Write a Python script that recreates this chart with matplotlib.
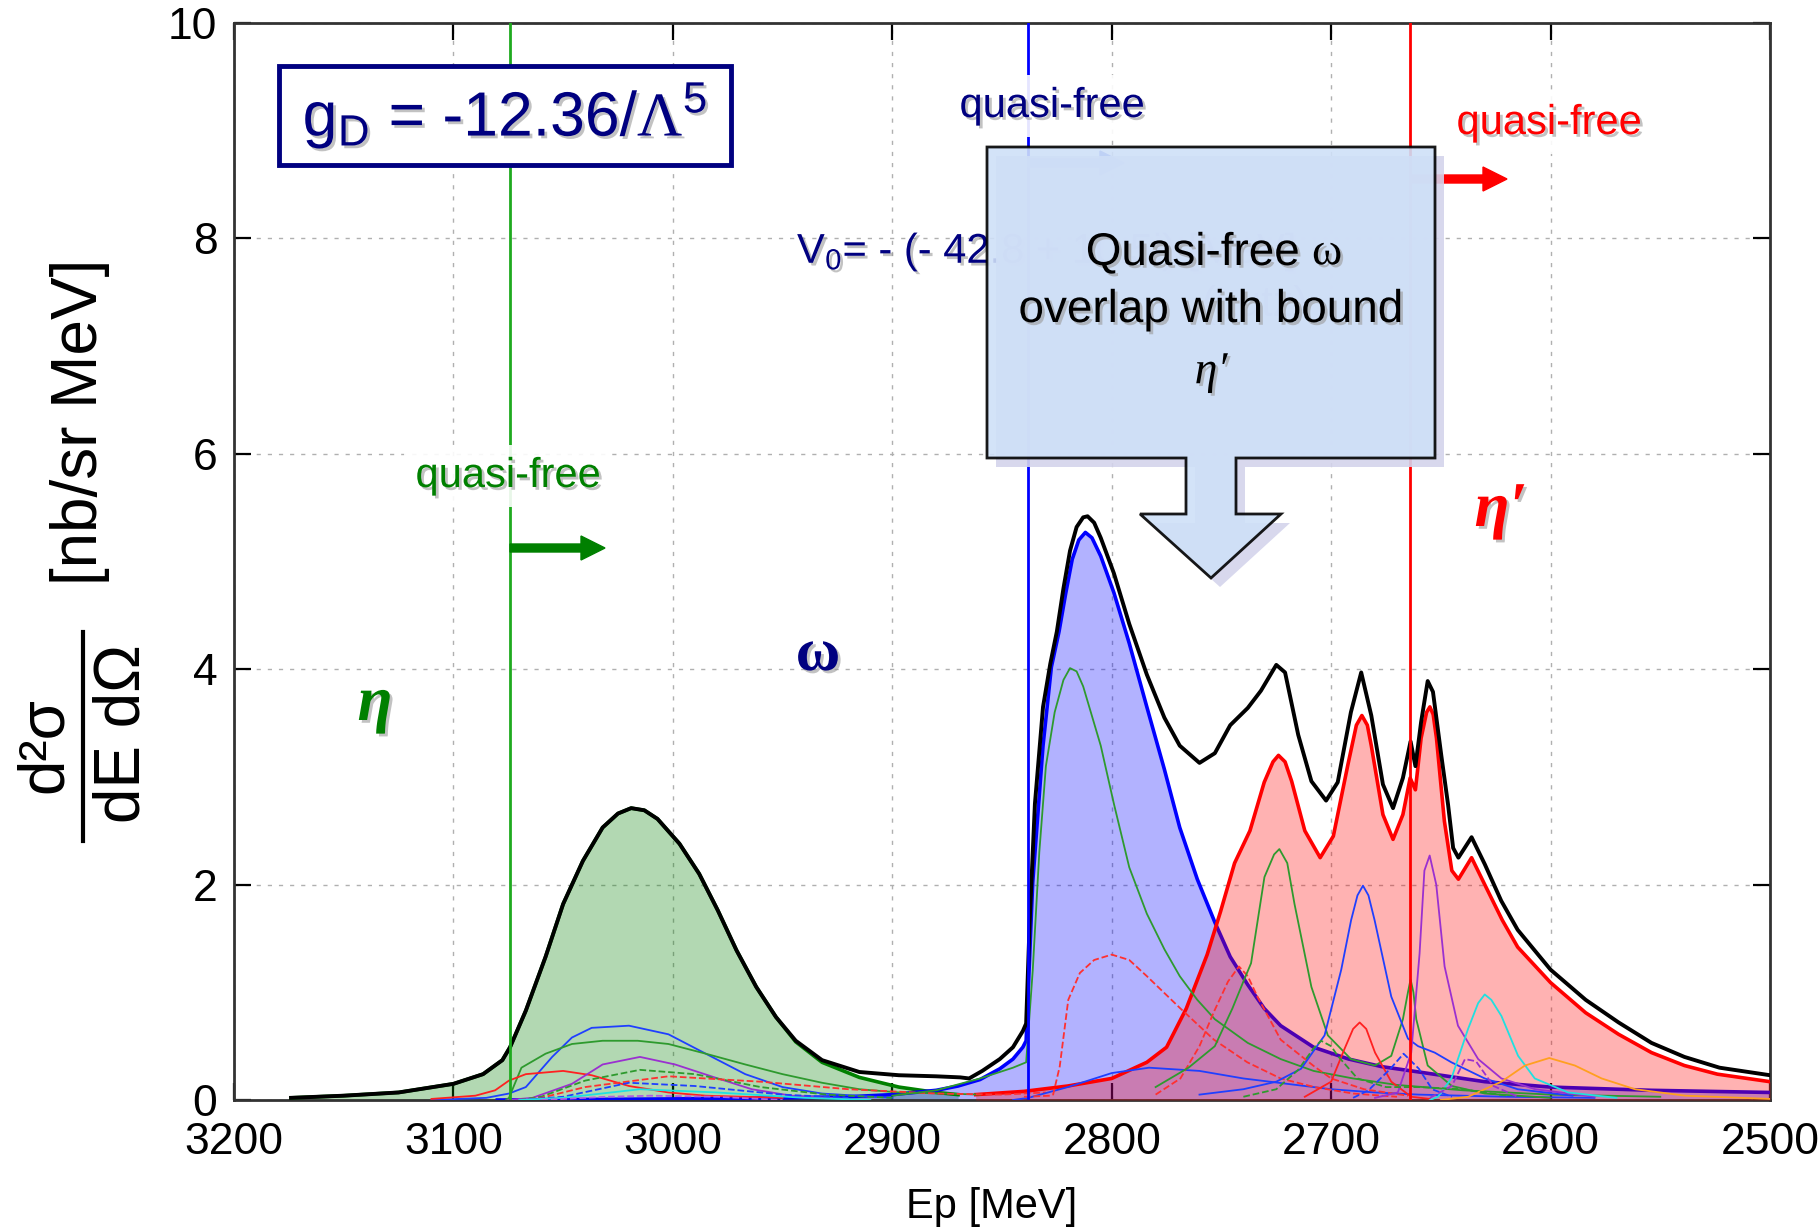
import matplotlib
matplotlib.use("Agg")
import matplotlib.pyplot as plt
import matplotlib.patheffects as pe
from matplotlib.patches import Polygon, Rectangle, FancyArrow

plt.rcParams['font.family'] = ['Liberation Sans', 'DejaVu Sans']
plt.rcParams['mathtext.fontset'] = 'custom'
plt.rcParams['mathtext.rm'] = 'Liberation Sans'
plt.rcParams['mathtext.it'] = 'Liberation Sans:italic'
plt.rcParams['mathtext.bf'] = 'Liberation Serif'

# ---- data (Ep in MeV, d2sigma/dEdOmega in nb/sr/MeV) ----
thresholds = [3074, 2838, 2664]          # eta, omega, eta' quasi-free thresholds

tot_x = [3174, 3150, 3125, 3100, 3086.5, 3077.7, 3074.2, 3067, 3058, 3050, 3041, 3032,
         3025, 3019, 3013, 3007, 2997, 2988, 2979.5, 2971, 2962, 2953, 2944, 2932, 2915,
         2897, 2880, 2869, 2865, 2859, 2851, 2845, 2840.5, 2839, 2837.4, 2835, 2831.3,
         2828, 2825, 2822, 2819, 2816, 2813, 2811, 2808, 2805, 2799, 2792, 2784, 2776,
         2769, 2760, 2753, 2746, 2738, 2732, 2725, 2721, 2715, 2709, 2702.3, 2697, 2691,
         2686.3, 2681.7, 2676.4, 2671.8, 2667.3, 2663.8, 2661.6, 2659, 2656, 2653.6,
         2649.8, 2646.7, 2644.4, 2642, 2636, 2630, 2622.5, 2615, 2600, 2584, 2569, 2554,
         2539, 2523, 2500]
tot_y = [0.02, 0.04, 0.07, 0.15, 0.24, 0.37, 0.49, 0.83, 1.33, 1.82, 2.22, 2.53,
         2.66, 2.71, 2.69, 2.61, 2.38, 2.10, 1.76, 1.39, 1.05, 0.77, 0.55, 0.37, 0.26,
         0.23, 0.22, 0.21, 0.20, 0.27, 0.38, 0.49, 0.64, 0.71, 1.65, 2.75, 3.65,
         4.05, 4.35, 4.75, 5.10, 5.32, 5.41, 5.42, 5.36, 5.22, 4.89, 4.42, 3.95, 3.55,
         3.29, 3.13, 3.22, 3.48, 3.64, 3.80, 4.04, 3.97, 3.39, 2.96, 2.78, 2.95, 3.60,
         3.97, 3.57, 2.93, 2.71, 2.99, 3.33, 3.10, 3.51, 3.89, 3.79,
         3.20, 2.74, 2.34, 2.25, 2.44, 2.19, 1.85, 1.58, 1.21, 0.93, 0.72, 0.53,
         0.40, 0.30, 0.23]

eta_x = [3174, 3150, 3125, 3100, 3086.5, 3077.7, 3074.2, 3067, 3058, 3050, 3041, 3032,
         3025, 3019, 3013, 3007, 2997, 2988, 2979.5, 2971, 2962, 2953, 2944, 2932, 2915,
         2897, 2880, 2870]
eta_y = [0.02, 0.04, 0.07, 0.15, 0.24, 0.37, 0.49, 0.83, 1.33, 1.82, 2.22, 2.53,
         2.66, 2.71, 2.69, 2.61, 2.38, 2.10, 1.76, 1.39, 1.05, 0.77, 0.54, 0.35, 0.21,
         0.12, 0.07, 0.05]

omega_x = [3080, 3000, 2950, 2920, 2900, 2880, 2870, 2860, 2851, 2845, 2840.5, 2839,
           2836, 2831.3, 2827.5, 2824, 2821, 2818, 2815, 2812, 2809, 2805, 2799, 2792,
           2784, 2776, 2769, 2761, 2753, 2746, 2738, 2730.5, 2723, 2708, 2692, 2677, 2660,
           2630, 2600, 2554, 2500]
omega_y = [0.0, 0.01, 0.02, 0.03, 0.05, 0.09, 0.13, 0.19, 0.29, 0.38, 0.49, 0.55,
           2.02, 3.29, 4.02, 4.35, 4.70, 5.02, 5.20, 5.27, 5.22, 5.05, 4.71, 4.24,
           3.65, 3.07, 2.53, 2.05, 1.65, 1.33, 1.07, 0.85, 0.69, 0.49, 0.38, 0.31, 0.26,
           0.17, 0.12, 0.09, 0.07]

etap_x = [2862, 2840, 2820, 2800, 2784, 2775, 2766, 2756.5, 2750.4, 2744, 2737, 2730.5,
          2726.5, 2724, 2721, 2718, 2712, 2705, 2699, 2692.4, 2688.5, 2686, 2683.5,
          2681.7, 2676.4, 2671.8, 2667.3, 2664, 2661.6, 2659, 2656.5, 2655, 2653.5, 2652,
          2648.4, 2645, 2642, 2636, 2630, 2622, 2615, 2600, 2584, 2569, 2554, 2539, 2524,
          2500]
etap_y = [0.05, 0.08, 0.13, 0.20, 0.35, 0.49, 0.85, 1.35, 1.75, 2.20, 2.50, 2.95,
          3.14, 3.20, 3.14, 2.96, 2.50, 2.25, 2.45, 3.11, 3.48, 3.57, 3.48,
          3.29, 2.65, 2.42, 2.65, 2.99, 2.88, 3.36, 3.60, 3.65, 3.58, 3.36,
          2.59, 2.13, 2.05, 2.25, 2.00, 1.67, 1.42, 1.09, 0.81, 0.61, 0.44, 0.32, 0.24,
          0.17]

# thin component curves
comp_be_x = [3110, 3085, 3074.7, 3067, 3055, 3046, 3037, 3020, 3002, 2985, 2967, 2950, 2932, 2900]
comp_be_y = [0.0, 0.02, 0.06, 0.12, 0.40, 0.58, 0.67, 0.69, 0.61, 0.43, 0.24, 0.12, 0.06, 0.02]
comp_ge_x = [3076, 3074.7, 3069, 3058, 3046, 3032, 3016, 3002, 2985, 2967, 2950, 2932, 2915, 2897, 2876, 2860]
comp_ge_y = [0.0, 0.02, 0.30, 0.43, 0.52, 0.55, 0.55, 0.52, 0.43, 0.33, 0.24, 0.16, 0.10, 0.07, 0.06, 0.05]
comp_re_x = [3110, 3090, 3081, 3074.7, 3067, 3050, 3037, 3020, 3002, 2985, 2950]
comp_re_y = [0.01, 0.04, 0.09, 0.18, 0.24, 0.27, 0.23, 0.13, 0.07, 0.04, 0.02]
comp_pe_x = [3075, 3064, 3046, 3032, 3015, 2999, 2981, 2964, 2946, 2920]
comp_pe_y = [0.0, 0.02, 0.15, 0.33, 0.40, 0.33, 0.21, 0.10, 0.04, 0.01]
comp_gde_x = [3070, 3060, 3040, 3015, 2990, 2960, 2930, 2900]
comp_gde_y = [0.0, 0.03, 0.18, 0.28, 0.24, 0.12, 0.05, 0.02]
comp_rde_x = [3070, 3060, 3040, 3002, 2960, 2920, 2880, 2850, 2830]
comp_rde_y = [0.0, 0.02, 0.12, 0.22, 0.17, 0.10, 0.06, 0.05, 0.07]
comp_bde_x = [3070, 3050, 3020, 2990, 2950, 2920]
comp_bde_y = [0.0, 0.03, 0.16, 0.13, 0.05, 0.02]
comp_ce_x = [3070, 3050, 3015, 2980, 2940, 2910]
comp_ce_y = [0.0, 0.02, 0.10, 0.07, 0.02, 0.0]
comp_pde_x = [3060, 3030, 3010, 2980, 2950]
comp_pde_y = [0.0, 0.03, 0.04, 0.03, 0.0]

comp_gw_x = [2900, 2880, 2860, 2845, 2839, 2836, 2833, 2830, 2826, 2822, 2819, 2816, 2813,
             2805, 2799, 2792, 2784, 2776, 2769, 2761, 2753, 2738, 2723, 2708, 2690, 2670,
             2640, 2600, 2550]
comp_gw_y = [0.04, 0.09, 0.20, 0.30, 0.35, 1.20, 2.30, 3.10, 3.60, 3.90, 4.01, 3.98, 3.84,
             3.29, 2.75, 2.16, 1.73, 1.40, 1.15, 0.93, 0.75, 0.53, 0.38, 0.27, 0.20, 0.14,
             0.09, 0.05, 0.03]
comp_bw_x = [2845, 2838, 2820, 2800, 2783, 2760, 2740, 2720, 2700, 2680, 2660, 2620, 2580]
comp_bw_y = [0.0, 0.02, 0.12, 0.25, 0.30, 0.27, 0.20, 0.15, 0.10, 0.07, 0.05, 0.03, 0.02]
comp_rd1_x = [2840, 2828, 2826.7, 2823.7, 2819.8, 2814.5, 2808, 2800, 2792, 2784, 2768.7,
              2753.4, 2738.2, 2723, 2707.6, 2690, 2670]
comp_rd1_y = [0.03, 0.04, 0.05, 0.31, 0.93, 1.18, 1.30, 1.35, 1.30, 1.15, 0.85,
              0.56, 0.35, 0.20, 0.12, 0.06, 0.03]
comp_rd2_x = [2780, 2768.7, 2760, 2753.4, 2747, 2742, 2738, 2733.6, 2723, 2707.6, 2700, 2685, 2665]
comp_rd2_y = [0.05, 0.20, 0.50, 0.82, 1.10, 1.24, 1.15, 0.96, 0.56, 0.31, 0.20, 0.10, 0.04]
comp_g2_x = [2780, 2765, 2753, 2745, 2740, 2736.5, 2730.4, 2726, 2723.6, 2720, 2716.7, 2709,
             2701.5, 2691, 2680, 2672.6, 2667.3, 2665, 2663.8, 2662.5, 2661.2, 2656, 2645,
             2630, 2600]
comp_g2_y = [0.12, 0.30, 0.50, 0.85, 1.10, 1.27, 2.07, 2.28, 2.33, 2.20, 1.82, 1.05,
             0.60, 0.38, 0.32, 0.41, 0.75, 1.00, 1.12, 1.00, 0.75, 0.32, 0.13,
             0.06, 0.02]
comp_b2_x = [2760, 2740, 2725, 2713.7, 2703, 2695.4, 2690.9, 2688, 2685.5, 2683, 2680.2,
             2672.6, 2665, 2660.4, 2652.8, 2645.2, 2630, 2615, 2590]
comp_b2_y = [0.05, 0.10, 0.17, 0.29, 0.60, 1.21, 1.67, 1.90, 1.99, 1.90, 1.67,
             0.96, 0.57, 0.50, 0.44, 0.35, 0.20, 0.10, 0.04]
comp_r2_x = [2712, 2700, 2694, 2690, 2687, 2684, 2680, 2672.6, 2663.5, 2655]
comp_r2_y = [0.03, 0.17, 0.47, 0.66, 0.72, 0.66, 0.44, 0.17, 0.03, 0.01]
comp_p2_x = [2680, 2669.6, 2663.5, 2659.7, 2657.5, 2655.1, 2652.1, 2648.3, 2642.2, 2633,
             2622.4, 2607, 2580]
comp_p2_y = [0.02, 0.07, 0.44, 1.36, 2.13, 2.27, 2.00, 1.24, 0.69, 0.38, 0.20, 0.10, 0.03]
comp_c2_x = [2655, 2651.3, 2645.2, 2637.6, 2633, 2630, 2627, 2622.4, 2614.8, 2607.2, 2592, 2570]
comp_c2_y = [0.0, 0.03, 0.20, 0.66, 0.90, 0.98, 0.93, 0.78, 0.41, 0.20, 0.07, 0.02]
comp_o2_x = [2650, 2637.6, 2622.4, 2611.7, 2600.6, 2588.9, 2576.7, 2561.5, 2538.6, 2500]
comp_o2_y = [0.0, 0.03, 0.17, 0.32, 0.39, 0.32, 0.20, 0.10, 0.04, 0.01]
comp_gd2_x = [2740, 2725, 2715, 2708, 2704.6, 2700, 2697, 2688, 2675, 2660, 2640, 2620]
comp_gd2_y = [0.03, 0.10, 0.28, 0.48, 0.55, 0.50, 0.41, 0.20, 0.12, 0.12, 0.10, 0.04]
comp_bd2_x = [2690, 2683, 2673, 2667, 2660, 2654, 2645]
comp_bd2_y = [0.02, 0.09, 0.29, 0.43, 0.29, 0.10, 0.03]
comp_pd2_x = [2655, 2645, 2639, 2634, 2626, 2615]
comp_pd2_y = [0.02, 0.13, 0.38, 0.36, 0.13, 0.03]

xticks = [3200, 3100, 3000, 2900, 2800, 2700, 2600, 2500]
yticks = [0, 2, 4, 6, 8, 10]

W, H = 1820, 1229
NAVY = '#000080'
GREEN = '#008000'


def fx(x):
    return x / W


def fy(y):
    return 1 - y / H


shadow = [pe.withSimplePatchShadow(offset=(2, -2), shadow_rgbFace='#9a9a9a', alpha=0.6)]

fig = plt.figure(figsize=(18.2, 12.29), dpi=100)
ax = fig.add_axes([fx(234), fy(1100), (1770 - 234) / W, (1100 - 23) / H])
ax.set_xlim(3200, 2500)
ax.set_ylim(0, 10)
ax.set_xticks(xticks)
ax.set_yticks(yticks)
ax.tick_params(direction='in', length=12, width=1.6, labelsize=32, top=True, right=True,
               labeltop=False, labelright=False)
ax.tick_params(axis='x', pad=16)
ax.tick_params(axis='y', pad=12)
ax.grid(True, color='#b0b0b0', linestyle=(0, (3, 5)), linewidth=1.0)
ax.set_axisbelow(True)
for s in ax.spines.values():
    s.set_linewidth(2.0)
    s.set_color('#333333')

# filled contributions
ax.fill_between(eta_x, eta_y, 0, color=GREEN, alpha=0.3, lw=0, zorder=2)
ax.plot(eta_x, eta_y, color=GREEN, lw=2.6, zorder=3)
ax.fill_between(omega_x, omega_y, 0, color='#0000ff', alpha=0.3, lw=0, zorder=2)
ax.plot(omega_x, omega_y, color='#0000ff', lw=2.6, zorder=3)
ax.fill_between(etap_x, etap_y, 0, color='#ff0000', alpha=0.3, lw=0, zorder=4)
ax.plot(etap_x, etap_y, color='#ff0000', lw=2.6, zorder=5)

comps = [
    (comp_be_x, comp_be_y, '#1f3fff', '-'),
    (comp_ge_x, comp_ge_y, '#2e9a2e', '-'),
    (comp_re_x, comp_re_y, '#ff2020', '-'),
    (comp_pe_x, comp_pe_y, '#9a30d0', '-'),
    (comp_gde_x, comp_gde_y, '#2e9a2e', '--'),
    (comp_rde_x, comp_rde_y, '#ff3030', '--'),
    (comp_bde_x, comp_bde_y, '#1f3fff', '--'),
    (comp_ce_x, comp_ce_y, '#20e0e0', '-'),
    (comp_pde_x, comp_pde_y, '#b060e0', '--'),
    (comp_gw_x, comp_gw_y, '#2e9a2e', '-'),
    (comp_bw_x, comp_bw_y, '#1f3fff', '-'),
    (comp_rd1_x, comp_rd1_y, '#ff3030', '--'),
    (comp_rd2_x, comp_rd2_y, '#ff3030', '--'),
    (comp_g2_x, comp_g2_y, '#2e9a2e', '-'),
    (comp_b2_x, comp_b2_y, '#1f3fff', '-'),
    (comp_r2_x, comp_r2_y, '#ff2020', '-'),
    (comp_p2_x, comp_p2_y, '#9a30d0', '-'),
    (comp_c2_x, comp_c2_y, '#20e0e0', '-'),
    (comp_o2_x, comp_o2_y, '#ffa020', '-'),
    (comp_gd2_x, comp_gd2_y, '#2e9a2e', '--'),
    (comp_bd2_x, comp_bd2_y, '#1f3fff', '--'),
    (comp_pd2_x, comp_pd2_y, '#9a30d0', '--'),
]
for cx, cy, col, ls in comps:
    ax.plot(cx, cy, color=col, lw=1.3, ls=ls, zorder=6)

ax.plot(tot_x, tot_y, color='black', lw=2.8, zorder=7)

for xv, col in zip(thresholds, ['#1faa1f', '#0000ff', '#ff0000']):
    ax.axvline(xv, color=col, lw=2.0, zorder=8)

# quasi-free labels and arrows
fig.text(fx(508), fy(476), 'quasi-free', color=GREEN, fontsize=30, ha='center', va='center',
         path_effects=shadow, bbox=dict(facecolor='white', edgecolor='none', alpha=0.9, pad=8))
fig.text(fx(1052), fy(106), 'quasi-free', color=NAVY, fontsize=30, ha='center', va='center',
         path_effects=shadow, bbox=dict(facecolor='white', edgecolor='none', alpha=0.9, pad=8))
fig.text(fx(1549), fy(123), 'quasi-free', color='red', fontsize=30, ha='center', va='center',
         path_effects=shadow, bbox=dict(facecolor='white', edgecolor='none', alpha=0.9, pad=8))

for x0, x1, yy, col in [(510, 605, 548, GREEN), (1028, 1124, 163, '#3050e0'), (1410, 1507, 179, 'red')]:
    fig.add_artist(FancyArrow(fx(x0), fy(yy), (x1 - x0) / W, 0, width=8 / H,
                              head_width=24 / H, head_length=24 / W, length_includes_head=True,
                              color=col, transform=fig.transFigure, zorder=9))

# potential text (mostly hidden by the callout)
fig.text(fx(797), fy(252), r'V$_0$= - (- 42.8 + 10.5i) [MeV]', color=NAVY, fontsize=30,
         ha='left', va='center', path_effects=shadow, zorder=9)
fig.text(fx(1255), fy(305), '(Lutz)', color=NAVY, fontsize=30, ha='center', va='center', zorder=9)

# g_D box
fig.add_artist(Rectangle((fx(279), fy(165)), (731 - 279) / W, (165 - 66) / H, transform=fig.transFigure,
                         facecolor='white', edgecolor=NAVY, lw=3.5, zorder=10))
fig.text(fx(505), fy(116), r'g$_\mathrm{D}$ = -12.36/$\mathbf{\Lambda}^5$', color=NAVY, fontsize=45,
         ha='center', va='center', path_effects=shadow, zorder=11)

# callout box with a down arrow
call = [(987, 147), (1435, 147), (1435, 458), (1236, 458), (1236, 514), (1281, 514),
        (1211, 578), (1140, 514), (1186, 514), (1186, 458), (987, 458)]
fig.add_artist(Polygon([(fx(x + 9), fy(y + 9)) for x, y in call], closed=True, transform=fig.transFigure,
                       facecolor='#d4d4ec', edgecolor='none', alpha=0.9, zorder=11))
fig.add_artist(Polygon([(fx(x), fy(y)) for x, y in call], closed=True, transform=fig.transFigure,
                       facecolor='#cfe0f8', edgecolor='black', lw=2.0, alpha=0.9, zorder=12))
fig.text(fx(1300), fy(253), 'Quasi-free', fontsize=33, ha='right', va='center', zorder=13,
         path_effects=shadow)
fig.text(fx(1312), fy(253), 'ω', fontsize=33, family='Liberation Serif', ha='left', va='center',
         zorder=13, path_effects=shadow)
fig.text(fx(1211), fy(310), 'overlap with bound', fontsize=33, ha='center', va='center', zorder=13,
         path_effects=shadow)
fig.text(fx(1211), fy(372), 'η′', fontsize=33, family='Liberation Serif', style='italic',
         ha='center', va='center', zorder=13, path_effects=shadow)

# meson labels
fig.text(fx(375), fy(705), 'η', color=GREEN, fontsize=46, family='Liberation Serif', style='italic',
         weight='bold', ha='center', va='center', path_effects=shadow)
fig.text(fx(818), fy(655), 'ω', color=NAVY, fontsize=44, family='Liberation Serif', weight='bold',
         ha='center', va='center', path_effects=shadow)
fig.text(fx(1501), fy(511), 'η′', color='red', fontsize=46, family='Liberation Serif', style='italic',
         weight='bold', ha='center', va='center', path_effects=shadow)

# axis labels
fig.text(fx(45), fy(745), 'd²σ', fontsize=46, rotation=90, ha='center', va='center')
fig.add_artist(plt.Line2D([fx(83), fx(83)], [fy(632), fy(841)], color='black', lw=3,
                          transform=fig.transFigure))
fig.text(fx(122), fy(734), 'dE dΩ', fontsize=46, rotation=90, ha='center', va='center')
fig.text(fx(80), fy(422), '[nb/sr MeV]', fontsize=46, rotation=90, ha='center', va='center')
fig.text(fx(992), fy(1207), 'Ep [MeV]', fontsize=30, ha='center', va='center')

fig.savefig('out.png', dpi=100)
